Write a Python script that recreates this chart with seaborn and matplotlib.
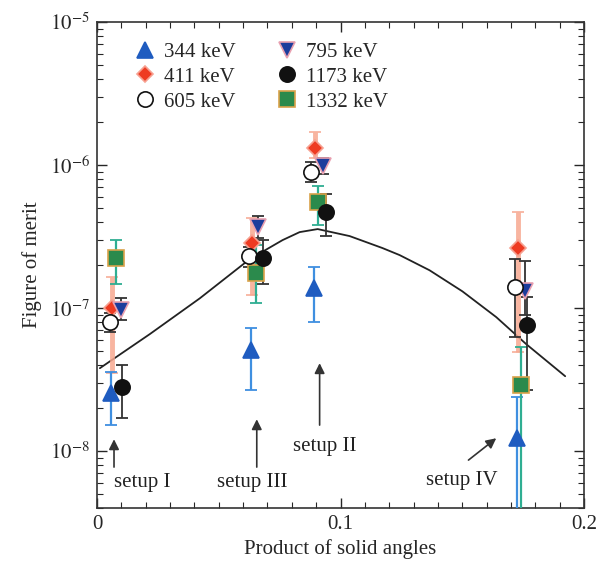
"""
Figure of merit vs product of solid angles for four detector setups.
"""

import numpy as np
import pandas as pd
import matplotlib
matplotlib.use('Agg')
import matplotlib.pyplot as plt
from matplotlib.lines import Line2D
import seaborn as sns

# Setup order in every array: I, III, II, IV
x_344 = [0.0057, 0.0631, 0.0889, 0.1725]
y_344 = [2.55e-8, 5.08e-8, 1.38e-7, 1.23e-8]
lo_344 = [1.52e-8, 2.67e-8, 7.98e-8, 1e-9]
hi_344 = [3.56e-8, 7.24e-8, 1.94e-7, 2.39e-8]

x_411 = [0.0061, 0.0635, 0.0893, 0.1730]
y_411 = [1.0e-7, 2.85e-7, 1.31e-6, 2.63e-7]
lo_411 = [3.51e-8, 1.23e-7, 1.12e-6, 4.92e-8]
hi_411 = [1.65e-7, 4.26e-7, 1.70e-6, 4.69e-7]

x_605 = [0.0053, 0.0623, 0.0877, 0.1717]
y_605 = [7.98e-8, 2.31e-7, 8.93e-7, 1.40e-7]
lo_605 = [6.79e-8, 1.94e-7, 7.6e-7, 6.27e-8]
hi_605 = [9.23e-8, 2.67e-7, 1.05e-6, 2.2e-7]

x_795 = [0.0098, 0.0660, 0.0926, 0.1758]
y_795 = [9.68e-8, 3.68e-7, 9.84e-7, 1.31e-7]
lo_795 = [8.24e-8, 3.09e-7, 8.65e-7, 8.9e-8]
hi_795 = [1.17e-7, 4.4e-7, 1.12e-6, 2.13e-7]

x_1173 = [0.0102, 0.0680, 0.0939, 0.1766]
y_1173 = [2.81e-8, 2.24e-7, 4.69e-7, 7.6e-8]
lo_1173 = [1.70e-8, 1.47e-7, 3.19e-7, 2.67e-8]
hi_1173 = [3.99e-8, 2.99e-7, 6.27e-7, 1.19e-7]

x_1332 = [0.0078, 0.0652, 0.0906, 0.1742]
y_1332 = [2.24e-7, 1.76e-7, 5.51e-7, 2.9e-8]
lo_1332 = [1.47e-7, 1.08e-7, 3.8e-7, 1e-9]
hi_1332 = [2.99e-7, 2.76e-7, 7.13e-7, 5.33e-8]

# model curve
curve_x = [0.0012, 0.0217, 0.0422, 0.0627, 0.0762, 0.0832, 0.0906, 0.1037,
           0.1172, 0.1242, 0.1365, 0.1500, 0.1639, 0.1762, 0.1922]
curve_y = [3.80e-8, 6.58e-8, 1.17e-7, 2.20e-7, 2.99e-7, 3.40e-7, 3.57e-7, 3.19e-7,
           2.63e-7, 2.35e-7, 1.84e-7, 1.31e-7, 8.65e-8, 5.60e-8, 3.34e-8]

setup_labels = ['setup I', 'setup III', 'setup II', 'setup IV']

sns.set_style('ticks')
plt.rcParams['font.family'] = ['Liberation Serif', 'DejaVu Serif']
plt.rcParams['mathtext.fontset'] = 'stix'

fig = plt.figure(figsize=(6.06, 5.63), dpi=100)
ax = fig.add_axes([0.160, 0.0977, 0.804, 0.863])

curve = pd.DataFrame({'x': curve_x, 'y': curve_y})
sns.lineplot(data=curve, x='x', y='y', ax=ax, color='#222222', lw=1.3, zorder=2)

series = [
    # x, y, lo, hi, marker, face, edge, errcolor, errwidth, label
    (x_411, y_411, lo_411, hi_411, 'D', '#ee3b22', '#f7a090', '#f7a890', 3.5, '411 keV'),
    (x_344, y_344, lo_344, hi_344, '^', '#1f5cc0', '#1f5cc0', '#3f8fe0', 1.6, '344 keV'),
    (x_1332, y_1332, lo_1332, hi_1332, 's', '#2b8a4c', '#d9a24a', '#2fae92', 1.6, '1332 keV'),
    (x_795, y_795, lo_795, hi_795, 'v', '#1c3d9c', '#e8a0b0', '#333333', 1.3, '795 keV'),
    (x_605, y_605, lo_605, hi_605, 'o', 'white', '#111111', '#333333', 1.3, '605 keV'),
    (x_1173, y_1173, lo_1173, hi_1173, 'o', '#111111', '#111111', '#333333', 1.3, '1173 keV'),
]

handles = {}
for xs, ys, lo, hi, mk, fc, ec, errc, errw, label in series:
    ys = np.array(ys)
    yerr = [ys - np.array(lo), np.array(hi) - ys]
    ms = 8 if mk == 'D' else 11
    ax.errorbar(xs, ys, yerr=yerr, fmt='none', ecolor=errc, elinewidth=errw,
                capsize=4, capthick=1.3, alpha=0.85 if mk == 'D' else 1, zorder=3)
    ax.plot(xs, ys, ls='none', marker=mk, ms=ms, mfc=fc, mec=ec, mew=1.2, zorder=4)
    handles[label] = Line2D([], [], ls='none', marker=mk, ms=ms, mfc=fc, mec=ec, mew=1.2)

order = ['344 keV', '411 keV', '605 keV', '795 keV', '1173 keV', '1332 keV']
ax.legend([handles[k] for k in order], order, ncol=2, loc='upper left',
          bbox_to_anchor=(0.035, 0.997), frameon=False, fontsize=15,
          handletextpad=0.3, columnspacing=1.85, labelspacing=0.25, handlelength=1.2)

# setup annotations: arrow head, arrow tail, text position
arrow_head = [(0.0070, 1.21e-8), (0.0656, 1.67e-8), (0.0914, 4.12e-8), (0.1639, 1.23e-8)]
arrow_tail = [(0.0070, 7.73e-9), (0.0656, 7.73e-9), (0.0914, 1.52e-8), (0.1525, 8.65e-9)]
text_pos = [(0.0184, 6.07e-9), (0.0639, 6.07e-9), (0.0934, 1.07e-8), (0.1496, 6.27e-9)]
for lab, head, tail, tp in zip(setup_labels, arrow_head, arrow_tail, text_pos):
    ax.annotate('', xy=head, xytext=tail,
                arrowprops=dict(arrowstyle='-|>', color='#333333', lw=1.2,
                                mutation_scale=15, shrinkA=0, shrinkB=0))
    ax.text(tp[0], tp[1], lab, ha='center', va='center', fontsize=15, color='#222222')

ax.set_yscale('log')
ax.set_xlim(0, 0.2)
ax.set_ylim(4.0e-9, 1e-5)
ax.set_xticks([0, 0.1, 0.2])
ax.set_xticklabels(['0', '0.1', '0.2'])
ax.set_xticks(np.arange(0, 0.2, 0.01), minor=True)
ax.set_yticks([1e-8, 1e-7, 1e-6, 1e-5])
ax.set_yticklabels([r'$10^{-8}$', r'$10^{-7}$', r'$10^{-6}$', r'$10^{-5}$'])
ax.tick_params(which='both', direction='in', top=True, right=True, labelsize=15, pad=5)
ax.tick_params(which='major', length=7, width=1)
ax.tick_params(which='minor', length=4, width=0.8)
for sp in ax.spines.values():
    sp.set_linewidth(1.2)
    sp.set_color('#333333')

ax.set_xlabel('Product of solid angles', fontsize=15, labelpad=4)
ax.set_ylabel('Figure of merit', fontsize=15, labelpad=6)

fig.savefig('out.png', dpi=100)
